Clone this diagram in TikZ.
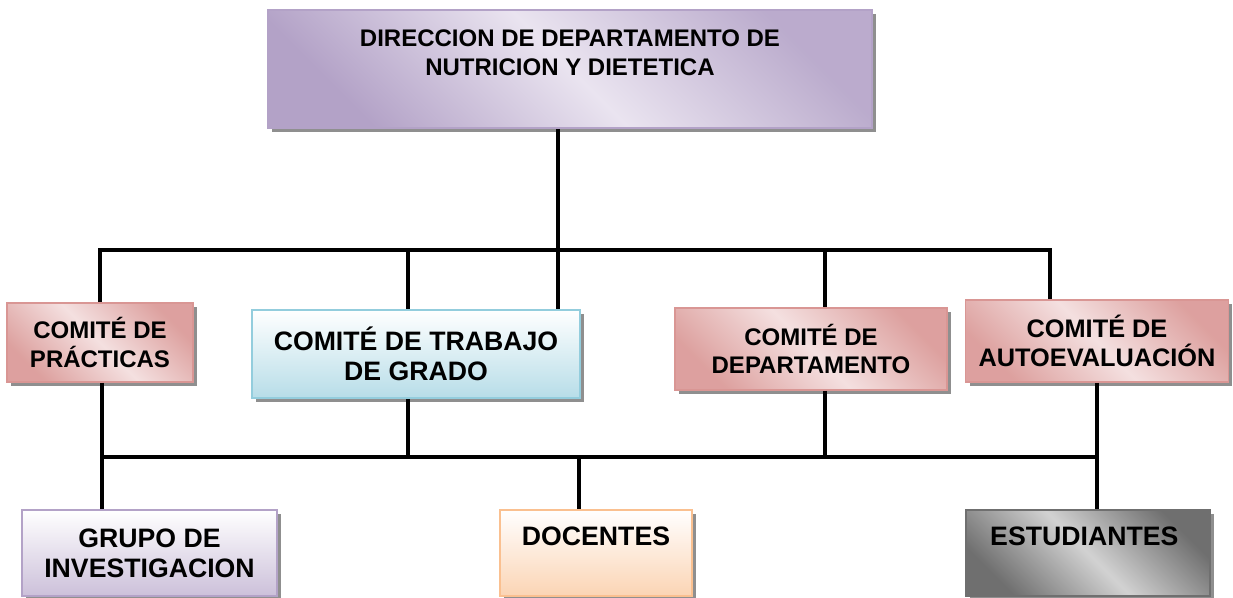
\documentclass[tikz,border=0pt]{standalone}
\usepackage{fontspec}
\setmainfont{Liberation Sans}
\usetikzlibrary{shadows}

\definecolor{lavdark}{HTML}{B3A2C7}
\definecolor{lavlight}{HTML}{EAE4F0}
\definecolor{lavbottom}{HTML}{CCC0DA}
\definecolor{pinkdark}{HTML}{D99694}
\definecolor{pinklight}{HTML}{F4E0E0}
\definecolor{bluelight}{HTML}{B7DDE8}
\definecolor{blueedge}{HTML}{93CDDD}
\definecolor{peach}{HTML}{FBD4B4}
\definecolor{peachedge}{HTML}{FAC090}
\definecolor{graydark}{HTML}{6F6F6F}
\definecolor{graylight}{HTML}{D2D2D2}

\begin{document}
\begin{tikzpicture}[x=0.75pt,y=-0.75pt]
      \tikzstyle{orgbox}=[rectangle,draw,line width=1.2pt,align=center,font=\bfseries\fontsize{18}{21.5}\selectfont,
        drop shadow={shadow xshift=3pt,shadow yshift=-3pt,fill=black!55,opacity=0.8}]
      \tikzstyle{lila}=[orgbox,draw=lavdark,left color=lavdark,right color=lavdark!90,middle color=lavlight,shading angle=135]
      \tikzstyle{rosa}=[orgbox,draw=pinkdark,left color=pinkdark!90,right color=pinkdark!90,middle color=pinklight,shading angle=135]
      \tikzstyle{azul}=[orgbox,draw=blueedge,top color=white,bottom color=bluelight]
      \tikzstyle{malva}=[orgbox,draw=lavdark,top color=white,bottom color=lavbottom]
      \tikzstyle{durazno}=[orgbox,draw=peachedge,top color=white,bottom color=peach]
      \tikzstyle{gris}=[orgbox,draw=graydark,left color=graydark,right color=graydark,middle color=graylight,shading angle=135]
      \tikzstyle{grande}=[font=\bfseries\fontsize{20}{22.5}\selectfont]
      \tikzstyle{conn}=[line width=3.6pt,black]
      \useasboundingbox (0,0) rectangle (1233,598);
      % cajas
      \node[lila,minimum width=453pt,minimum height=88.5pt,text depth=25pt] (dir) at (570,69)
        {DIRECCION DE DEPARTAMENTO DE\\NUTRICION Y DIETETICA};
      \node[rosa,minimum width=139.5pt,minimum height=59.25pt] (prac) at (100,342.5) {COMITÉ DE\\PRÁCTICAS};
      \node[azul,grande,minimum width=246pt,minimum height=66pt] (trab) at (416,354) {COMITÉ DE TRABAJO\\DE GRADO};
      \node[rosa,minimum width=204pt,minimum height=61.5pt] (dep) at (811,349) {COMITÉ DE\\DEPARTAMENTO};
      \node[rosa,minimum width=197pt,minimum height=61.5pt,font=\bfseries\fontsize{19}{22}\selectfont] (auto) at (1097,341) {COMITÉ DE\\AUTOEVALUACIÓN};
      \node[malva,grande,minimum width=191.25pt,minimum height=64.5pt] (grp) at (149.5,553) {GRUPO DE\\INVESTIGACION};
      \node[durazno,grande,minimum width=144pt,minimum height=64.5pt,text depth=25pt] (doc) at (596,553) {DOCENTES};
      \node[gris,grande,minimum width=183pt,minimum height=64.5pt,text depth=25pt] (est) at (1088,553) {ESTUDIANTES~};
      % barra superior
      \coordinate (bsL) at (100,250);
      \coordinate (bsC) at (558,250);
      \coordinate (bsT) at (408,250);
      \coordinate (bsD) at (825,250);
      \coordinate (bsR) at (1050,250);
      \draw[conn] (dir.south -| bsC) -- (bsC);
      \draw[conn] (prac.north -| bsL) -- (bsL) -- (bsR) -- (auto.north -| bsR);
      \draw[conn] (bsT) -- (bsT |- trab.north);
      \draw[conn] (bsC) -- (bsC |- trab.north);
      \draw[conn] (bsD) -- (bsD |- dep.north);
      % barra inferior
      \coordinate (biL) at (102,457);
      \coordinate (biT) at (408,457);
      \coordinate (biM) at (579,457);
      \coordinate (biD) at (825,457);
      \coordinate (biR) at (1097,457);
      \draw[conn] (prac.south -| biL) -- (biL) -- (biR);
      \draw[conn] (trab.south -| biT) -- (biT);
      \draw[conn] (dep.south -| biD) -- (biD);
      \draw[conn] (auto.south -| biR) -- (biR) -- (est.north -| biR);
      \draw[conn] (biL) -- (grp.north -| biL);
      \draw[conn] (biM) -- (doc.north -| biM);
\end{tikzpicture}
\end{document}
